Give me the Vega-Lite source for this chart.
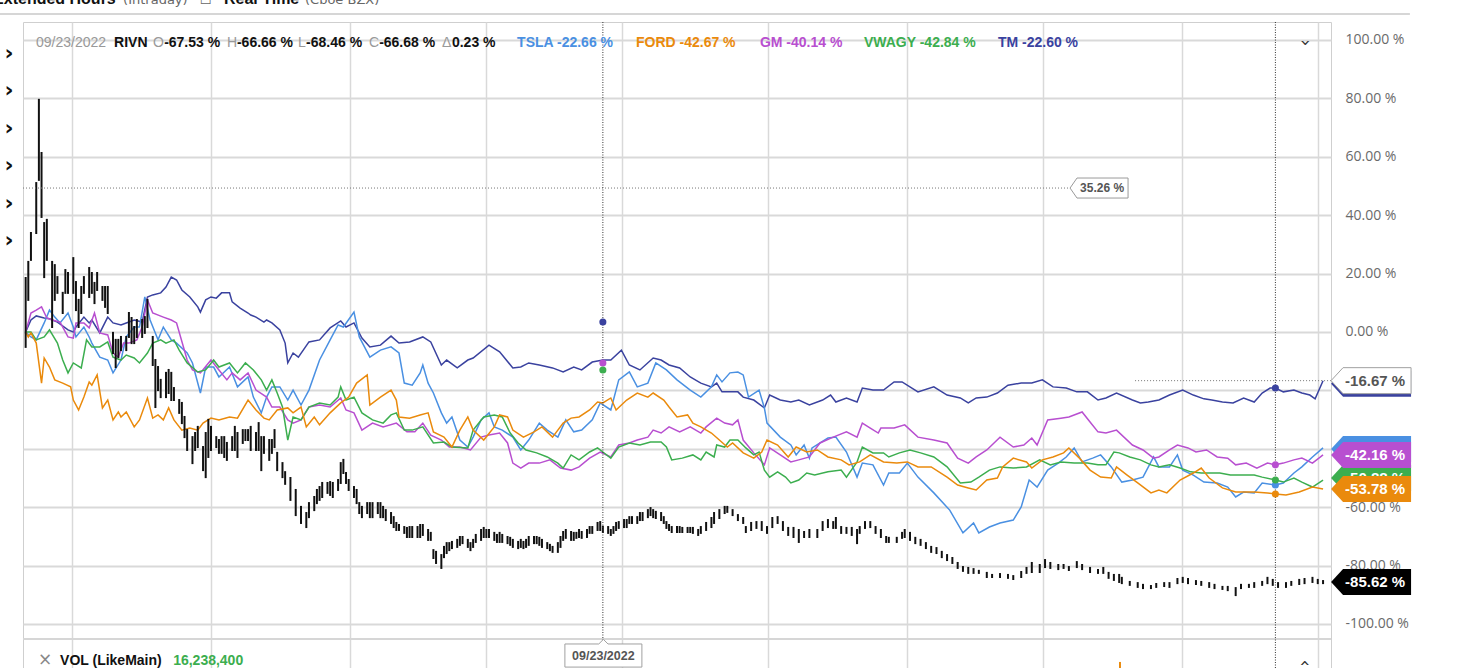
{
"$schema":"https://vega.github.io/schema/vega-lite/v6.json",
"width":1308,"height":646,
"autosize":{"type":"none"},
"padding":{"left":23,"top":22,"right":130,"bottom":0},
"background":"white",
"config":{"view":{"stroke":"#cfcfcf","strokeWidth":1},"font":"Liberation Sans"},
"datasets":{
"lines":[
{"s":"TM","d":1,"v":0},{"s":"TM","d":3,"v":4.1},{"s":"TM","d":5,"v":5.5},{"s":"TM","d":8,"v":4.8},{"s":"TM","d":10,"v":4.5},{"s":"TM","d":13,"v":3.4},{"s":"TM","d":17,"v":0.7},{"s":"TM","d":19,"v":0},{"s":"TM","d":20,"v":1.7},{"s":"TM","d":23,"v":5.1},{"s":"TM","d":25,"v":3.1},{"s":"TM","d":26,"v":4.1},{"s":"TM","d":29,"v":-0.3},{"s":"TM","d":32,"v":5.1},{"s":"TM","d":34,"v":3.1},{"s":"TM","d":37,"v":2.4},{"s":"TM","d":39,"v":3.1},{"s":"TM","d":42,"v":4.1},{"s":"TM","d":45,"v":3.4},{"s":"TM","d":47,"v":12.0},{"s":"TM","d":49,"v":12.7},{"s":"TM","d":52,"v":13.4},{"s":"TM","d":54,"v":15.4},{"s":"TM","d":56,"v":18.8},{"s":"TM","d":58,"v":17.8},{"s":"TM","d":60,"v":14.4},{"s":"TM","d":63,"v":12.0},{"s":"TM","d":66,"v":8.6},{"s":"TM","d":67,"v":6.8},{"s":"TM","d":69,"v":11.0},{"s":"TM","d":71,"v":12.0},{"s":"TM","d":73,"v":11.6},{"s":"TM","d":75,"v":13.4},{"s":"TM","d":78,"v":13.4},{"s":"TM","d":79,"v":10.3},{"s":"TM","d":82,"v":8.2},{"s":"TM","d":85,"v":6.5},{"s":"TM","d":86,"v":5.8},{"s":"TM","d":88,"v":5.1},{"s":"TM","d":91,"v":3.4},{"s":"TM","d":92,"v":4.1},{"s":"TM","d":94,"v":3.1},{"s":"TM","d":97,"v":0.7},{"s":"TM","d":99,"v":-3.8},{"s":"TM","d":100,"v":-10.6},{"s":"TM","d":102,"v":-7.2},{"s":"TM","d":104,"v":-8.6},{"s":"TM","d":108,"v":-3.4},{"s":"TM","d":112,"v":-2.7},{"s":"TM","d":116,"v":1.4},{"s":"TM","d":120,"v":3.8},{"s":"TM","d":122,"v":1.7},{"s":"TM","d":125,"v":3.1},{"s":"TM","d":128,"v":-2.1},{"s":"TM","d":131,"v":-5.1},{"s":"TM","d":135,"v":-4.5},{"s":"TM","d":139,"v":-1.4},{"s":"TM","d":142,"v":-3.8},{"s":"TM","d":146,"v":-3.4},{"s":"TM","d":151,"v":-1.7},{"s":"TM","d":154,"v":-3.4},{"s":"TM","d":158,"v":-11.3},{"s":"TM","d":160,"v":-9.6},{"s":"TM","d":164,"v":-12.3},{"s":"TM","d":168,"v":-9.6},{"s":"TM","d":170,"v":-8.9},{"s":"TM","d":176,"v":-4.5},{"s":"TM","d":180,"v":-6.8},{"s":"TM","d":185,"v":-12.3},{"s":"TM","d":188,"v":-12.0},{"s":"TM","d":191,"v":-10.6},{"s":"TM","d":195,"v":-11.3},{"s":"TM","d":200,"v":-12.3},{"s":"TM","d":204,"v":-13.7},{"s":"TM","d":208,"v":-12.0},{"s":"TM","d":211,"v":-13.0},{"s":"TM","d":215,"v":-10.3},{"s":"TM","d":219,"v":-9.6},{"s":"TM","d":222,"v":-9.6},{"s":"TM","d":226,"v":-6.2},{"s":"TM","d":229,"v":-11.3},{"s":"TM","d":233,"v":-13.0},{"s":"TM","d":238,"v":-8.9},{"s":"TM","d":241,"v":-9.6},{"s":"TM","d":244,"v":-11.3},{"s":"TM","d":248,"v":-12.3},{"s":"TM","d":252,"v":-15.4},{"s":"TM","d":256,"v":-17.5},{"s":"TM","d":260,"v":-18.8},{"s":"TM","d":262,"v":-17.5},{"s":"TM","d":264,"v":-20.5},{"s":"TM","d":270,"v":-20.5},{"s":"TM","d":272,"v":-22.3},{"s":"TM","d":276,"v":-23.3},{"s":"TM","d":280,"v":-26.0},{"s":"TM","d":282,"v":-21.6},{"s":"TM","d":286,"v":-23.3},{"s":"TM","d":290,"v":-24.0},{"s":"TM","d":293,"v":-23.3},{"s":"TM","d":297,"v":-25.0},{"s":"TM","d":302,"v":-23.3},{"s":"TM","d":305,"v":-21.6},{"s":"TM","d":307,"v":-24.0},{"s":"TM","d":311,"v":-22.6},{"s":"TM","d":315,"v":-24.0},{"s":"TM","d":317,"v":-19.2},{"s":"TM","d":321,"v":-19.9},{"s":"TM","d":325,"v":-19.9},{"s":"TM","d":329,"v":-17.1},{"s":"TM","d":332,"v":-17.1},{"s":"TM","d":338,"v":-20.5},{"s":"TM","d":344,"v":-18.8},{"s":"TM","d":349,"v":-21.6},{"s":"TM","d":354,"v":-22.6},{"s":"TM","d":357,"v":-24.3},{"s":"TM","d":360,"v":-22.6},{"s":"TM","d":364,"v":-22.3},{"s":"TM","d":368,"v":-20.9},{"s":"TM","d":372,"v":-18.2},{"s":"TM","d":377,"v":-17.5},{"s":"TM","d":381,"v":-17.5},{"s":"TM","d":385,"v":-16.4},{"s":"TM","d":389,"v":-18.8},{"s":"TM","d":394,"v":-19.2},{"s":"TM","d":398,"v":-20.5},{"s":"TM","d":402,"v":-20.5},{"s":"TM","d":406,"v":-23.3},{"s":"TM","d":409,"v":-22.6},{"s":"TM","d":413,"v":-20.9},{"s":"TM","d":419,"v":-23.3},{"s":"TM","d":422,"v":-24.3},{"s":"TM","d":425,"v":-24.0},{"s":"TM","d":429,"v":-23.3},{"s":"TM","d":433,"v":-21.6},{"s":"TM","d":438,"v":-19.9},{"s":"TM","d":442,"v":-21.6},{"s":"TM","d":446,"v":-22.9},{"s":"TM","d":449,"v":-23.3},{"s":"TM","d":453,"v":-24.0},{"s":"TM","d":457,"v":-24.3},{"s":"TM","d":461,"v":-22.6},{"s":"TM","d":465,"v":-24.0},{"s":"TM","d":468,"v":-20.9},{"s":"TM","d":471,"v":-19.2},{"s":"TM","d":473,"v":-19.2},{"s":"TM","d":476,"v":-20.5},{"s":"TM","d":480,"v":-19.9},{"s":"TM","d":483,"v":-20.9},{"s":"TM","d":486,"v":-21.6},{"s":"TM","d":488,"v":-22.9},{"s":"TM","d":491,"v":-16.7},
{"s":"TSLA","d":1,"v":0},{"s":"TSLA","d":3,"v":-1.7},{"s":"TSLA","d":5,"v":-2.7},{"s":"TSLA","d":8,"v":3.1},{"s":"TSLA","d":10,"v":7.5},{"s":"TSLA","d":12,"v":5.1},{"s":"TSLA","d":14,"v":3.1},{"s":"TSLA","d":17,"v":6.5},{"s":"TSLA","d":19,"v":1.7},{"s":"TSLA","d":20,"v":-1.7},{"s":"TSLA","d":23,"v":1.7},{"s":"TSLA","d":25,"v":-1.7},{"s":"TSLA","d":26,"v":-3.8},{"s":"TSLA","d":29,"v":-8.6},{"s":"TSLA","d":32,"v":-9.6},{"s":"TSLA","d":34,"v":-14.0},{"s":"TSLA","d":37,"v":-9.6},{"s":"TSLA","d":39,"v":-1.7},{"s":"TSLA","d":42,"v":1.7},{"s":"TSLA","d":44,"v":1.7},{"s":"TSLA","d":46,"v":12.0},{"s":"TSLA","d":48,"v":4.1},{"s":"TSLA","d":51,"v":-2.7},{"s":"TSLA","d":53,"v":1.7},{"s":"TSLA","d":56,"v":-2.7},{"s":"TSLA","d":58,"v":-3.8},{"s":"TSLA","d":62,"v":-7.2},{"s":"TSLA","d":64,"v":-10.6},{"s":"TSLA","d":67,"v":-20.9},{"s":"TSLA","d":69,"v":-12.0},{"s":"TSLA","d":72,"v":-12.0},{"s":"TSLA","d":74,"v":-15.4},{"s":"TSLA","d":78,"v":-12.0},{"s":"TSLA","d":81,"v":-18.8},{"s":"TSLA","d":85,"v":-15.4},{"s":"TSLA","d":87,"v":-22.3},{"s":"TSLA","d":90,"v":-27.7},{"s":"TSLA","d":92,"v":-22.3},{"s":"TSLA","d":94,"v":-18.8},{"s":"TSLA","d":97,"v":-18.8},{"s":"TSLA","d":100,"v":-23.3},{"s":"TSLA","d":102,"v":-19.9},{"s":"TSLA","d":105,"v":-25.0},{"s":"TSLA","d":108,"v":-19.9},{"s":"TSLA","d":112,"v":-9.6},{"s":"TSLA","d":116,"v":-2.7},{"s":"TSLA","d":119,"v":2.4},{"s":"TSLA","d":121,"v":1.7},{"s":"TSLA","d":125,"v":6.8},{"s":"TSLA","d":127,"v":-1.7},{"s":"TSLA","d":131,"v":-8.6},{"s":"TSLA","d":135,"v":-6.2},{"s":"TSLA","d":139,"v":-5.1},{"s":"TSLA","d":142,"v":-7.2},{"s":"TSLA","d":144,"v":-17.5},{"s":"TSLA","d":147,"v":-18.2},{"s":"TSLA","d":150,"v":-14.0},{"s":"TSLA","d":151,"v":-11.3},{"s":"TSLA","d":153,"v":-17.5},{"s":"TSLA","d":155,"v":-20.9},{"s":"TSLA","d":158,"v":-27.7},{"s":"TSLA","d":160,"v":-31.2},{"s":"TSLA","d":162,"v":-29.1},{"s":"TSLA","d":165,"v":-37.0},{"s":"TSLA","d":168,"v":-39.4},{"s":"TSLA","d":170,"v":-36.0},{"s":"TSLA","d":173,"v":-30.1},{"s":"TSLA","d":176,"v":-27.7},{"s":"TSLA","d":178,"v":-32.5},{"s":"TSLA","d":181,"v":-33.6},{"s":"TSLA","d":185,"v":-36.0},{"s":"TSLA","d":188,"v":-40.4},{"s":"TSLA","d":191,"v":-37.0},{"s":"TSLA","d":195,"v":-31.2},{"s":"TSLA","d":198,"v":-33.6},{"s":"TSLA","d":202,"v":-36.0},{"s":"TSLA","d":205,"v":-30.1},{"s":"TSLA","d":208,"v":-34.2},{"s":"TSLA","d":211,"v":-33.6},{"s":"TSLA","d":215,"v":-30.1},{"s":"TSLA","d":218,"v":-24.3},{"s":"TSLA","d":222,"v":-26.7},{"s":"TSLA","d":225,"v":-16.4},{"s":"TSLA","d":229,"v":-13.7},{"s":"TSLA","d":232,"v":-18.8},{"s":"TSLA","d":236,"v":-17.5},{"s":"TSLA","d":239,"v":-10.6},{"s":"TSLA","d":243,"v":-13.0},{"s":"TSLA","d":247,"v":-16.4},{"s":"TSLA","d":252,"v":-19.9},{"s":"TSLA","d":256,"v":-22.3},{"s":"TSLA","d":260,"v":-18.8},{"s":"TSLA","d":262,"v":-14.7},{"s":"TSLA","d":264,"v":-17.1},{"s":"TSLA","d":267,"v":-14.0},{"s":"TSLA","d":270,"v":-13.7},{"s":"TSLA","d":272,"v":-14.7},{"s":"TSLA","d":274,"v":-22.3},{"s":"TSLA","d":278,"v":-19.9},{"s":"TSLA","d":280,"v":-26.0},{"s":"TSLA","d":281,"v":-31.2},{"s":"TSLA","d":286,"v":-36.0},{"s":"TSLA","d":290,"v":-38.7},{"s":"TSLA","d":292,"v":-42.1},{"s":"TSLA","d":295,"v":-38.7},{"s":"TSLA","d":297,"v":-43.2},{"s":"TSLA","d":298,"v":-39.7},{"s":"TSLA","d":304,"v":-36.3},{"s":"TSLA","d":307,"v":-36.0},{"s":"TSLA","d":311,"v":-41.1},{"s":"TSLA","d":315,"v":-49.7},{"s":"TSLA","d":317,"v":-44.9},{"s":"TSLA","d":321,"v":-45.5},{"s":"TSLA","d":325,"v":-52.4},{"s":"TSLA","d":327,"v":-48.3},{"s":"TSLA","d":331,"v":-48.3},{"s":"TSLA","d":334,"v":-44.9},{"s":"TSLA","d":338,"v":-49.7},{"s":"TSLA","d":344,"v":-55.1},{"s":"TSLA","d":350,"v":-61.0},{"s":"TSLA","d":355,"v":-68.8},{"s":"TSLA","d":359,"v":-65.4},{"s":"TSLA","d":361,"v":-68.8},{"s":"TSLA","d":365,"v":-66.8},{"s":"TSLA","d":369,"v":-65.4},{"s":"TSLA","d":374,"v":-64.4},{"s":"TSLA","d":377,"v":-59.9},{"s":"TSLA","d":380,"v":-50.7},{"s":"TSLA","d":383,"v":-53.1},{"s":"TSLA","d":387,"v":-47.3},{"s":"TSLA","d":391,"v":-44.9},{"s":"TSLA","d":394,"v":-42.8},{"s":"TSLA","d":397,"v":-39.7},{"s":"TSLA","d":400,"v":-44.5},{"s":"TSLA","d":404,"v":-43.2},{"s":"TSLA","d":407,"v":-42.1},{"s":"TSLA","d":411,"v":-46.2},{"s":"TSLA","d":415,"v":-51.4},{"s":"TSLA","d":419,"v":-50.7},{"s":"TSLA","d":423,"v":-49.7},{"s":"TSLA","d":427,"v":-42.8},{"s":"TSLA","d":429,"v":-46.2},{"s":"TSLA","d":433,"v":-46.2},{"s":"TSLA","d":436,"v":-42.1},{"s":"TSLA","d":438,"v":-47.3},{"s":"TSLA","d":442,"v":-49.0},{"s":"TSLA","d":446,"v":-51.4},{"s":"TSLA","d":451,"v":-51.7},{"s":"TSLA","d":455,"v":-53.1},{"s":"TSLA","d":458,"v":-56.5},{"s":"TSLA","d":461,"v":-54.8},{"s":"TSLA","d":465,"v":-55.1},{"s":"TSLA","d":468,"v":-51.7},{"s":"TSLA","d":473,"v":-52.4},{"s":"TSLA","d":476,"v":-51.7},{"s":"TSLA","d":480,"v":-48.3},{"s":"TSLA","d":483,"v":-46.2},{"s":"TSLA","d":487,"v":-42.8},{"s":"TSLA","d":491,"v":-39.7},
{"s":"GM","d":1,"v":0},{"s":"GM","d":3,"v":6.5},{"s":"GM","d":5,"v":7.5},{"s":"GM","d":7,"v":8.6},{"s":"GM","d":9,"v":4.8},{"s":"GM","d":11,"v":4.1},{"s":"GM","d":14,"v":3.4},{"s":"GM","d":17,"v":-1.7},{"s":"GM","d":19,"v":-2.1},{"s":"GM","d":20,"v":3.1},{"s":"GM","d":23,"v":3.1},{"s":"GM","d":25,"v":1.4},{"s":"GM","d":27,"v":6.5},{"s":"GM","d":29,"v":-0.3},{"s":"GM","d":32,"v":-1.0},{"s":"GM","d":34,"v":-7.2},{"s":"GM","d":36,"v":-8.6},{"s":"GM","d":38,"v":-3.8},{"s":"GM","d":40,"v":-3.8},{"s":"GM","d":43,"v":-2.7},{"s":"GM","d":45,"v":1.7},{"s":"GM","d":47,"v":11.0},{"s":"GM","d":49,"v":6.5},{"s":"GM","d":53,"v":5.1},{"s":"GM","d":56,"v":4.1},{"s":"GM","d":58,"v":3.1},{"s":"GM","d":62,"v":-9.6},{"s":"GM","d":64,"v":-13.0},{"s":"GM","d":67,"v":-14.0},{"s":"GM","d":71,"v":-9.6},{"s":"GM","d":74,"v":-13.0},{"s":"GM","d":77,"v":-16.4},{"s":"GM","d":79,"v":-14.0},{"s":"GM","d":82,"v":-16.4},{"s":"GM","d":85,"v":-14.0},{"s":"GM","d":88,"v":-19.9},{"s":"GM","d":92,"v":-22.3},{"s":"GM","d":94,"v":-25.7},{"s":"GM","d":97,"v":-25.7},{"s":"GM","d":100,"v":-30.1},{"s":"GM","d":102,"v":-31.2},{"s":"GM","d":105,"v":-30.1},{"s":"GM","d":108,"v":-25.7},{"s":"GM","d":112,"v":-25.0},{"s":"GM","d":116,"v":-25.7},{"s":"GM","d":120,"v":-22.6},{"s":"GM","d":122,"v":-26.7},{"s":"GM","d":125,"v":-27.7},{"s":"GM","d":128,"v":-33.6},{"s":"GM","d":132,"v":-31.2},{"s":"GM","d":136,"v":-32.5},{"s":"GM","d":141,"v":-31.2},{"s":"GM","d":145,"v":-34.2},{"s":"GM","d":148,"v":-34.2},{"s":"GM","d":151,"v":-31.2},{"s":"GM","d":154,"v":-35.3},{"s":"GM","d":158,"v":-37.0},{"s":"GM","d":161,"v":-39.4},{"s":"GM","d":165,"v":-39.4},{"s":"GM","d":169,"v":-40.4},{"s":"GM","d":173,"v":-36.0},{"s":"GM","d":176,"v":-35.3},{"s":"GM","d":180,"v":-34.6},{"s":"GM","d":183,"v":-38.0},{"s":"GM","d":185,"v":-44.9},{"s":"GM","d":188,"v":-46.6},{"s":"GM","d":191,"v":-44.9},{"s":"GM","d":195,"v":-44.9},{"s":"GM","d":199,"v":-43.8},{"s":"GM","d":203,"v":-46.6},{"s":"GM","d":207,"v":-47.3},{"s":"GM","d":210,"v":-46.2},{"s":"GM","d":214,"v":-43.2},{"s":"GM","d":218,"v":-41.1},{"s":"GM","d":222,"v":-42.8},{"s":"GM","d":225,"v":-38.7},{"s":"GM","d":229,"v":-38.0},{"s":"GM","d":232,"v":-37.0},{"s":"GM","d":236,"v":-36.0},{"s":"GM","d":238,"v":-33.6},{"s":"GM","d":241,"v":-34.6},{"s":"GM","d":244,"v":-32.5},{"s":"GM","d":248,"v":-34.2},{"s":"GM","d":252,"v":-32.5},{"s":"GM","d":256,"v":-34.6},{"s":"GM","d":258,"v":-32.5},{"s":"GM","d":262,"v":-29.5},{"s":"GM","d":265,"v":-31.2},{"s":"GM","d":268,"v":-31.8},{"s":"GM","d":270,"v":-30.1},{"s":"GM","d":272,"v":-37.0},{"s":"GM","d":276,"v":-41.4},{"s":"GM","d":280,"v":-45.5},{"s":"GM","d":282,"v":-39.7},{"s":"GM","d":286,"v":-42.1},{"s":"GM","d":290,"v":-44.5},{"s":"GM","d":293,"v":-43.8},{"s":"GM","d":297,"v":-42.8},{"s":"GM","d":301,"v":-38.0},{"s":"GM","d":306,"v":-36.0},{"s":"GM","d":311,"v":-34.2},{"s":"GM","d":315,"v":-36.0},{"s":"GM","d":317,"v":-31.2},{"s":"GM","d":320,"v":-32.9},{"s":"GM","d":323,"v":-34.6},{"s":"GM","d":324,"v":-32.9},{"s":"GM","d":329,"v":-32.9},{"s":"GM","d":333,"v":-31.8},{"s":"GM","d":338,"v":-36.0},{"s":"GM","d":344,"v":-37.0},{"s":"GM","d":349,"v":-38.0},{"s":"GM","d":353,"v":-43.2},{"s":"GM","d":357,"v":-44.9},{"s":"GM","d":360,"v":-42.8},{"s":"GM","d":364,"v":-40.4},{"s":"GM","d":369,"v":-36.0},{"s":"GM","d":374,"v":-39.4},{"s":"GM","d":378,"v":-38.7},{"s":"GM","d":381,"v":-36.3},{"s":"GM","d":383,"v":-38.7},{"s":"GM","d":387,"v":-30.1},{"s":"GM","d":392,"v":-29.5},{"s":"GM","d":395,"v":-29.1},{"s":"GM","d":400,"v":-27.4},{"s":"GM","d":403,"v":-30.8},{"s":"GM","d":406,"v":-34.2},{"s":"GM","d":409,"v":-34.6},{"s":"GM","d":413,"v":-33.6},{"s":"GM","d":419,"v":-38.7},{"s":"GM","d":423,"v":-40.4},{"s":"GM","d":427,"v":-43.2},{"s":"GM","d":429,"v":-42.8},{"s":"GM","d":433,"v":-40.4},{"s":"GM","d":436,"v":-38.7},{"s":"GM","d":440,"v":-39.7},{"s":"GM","d":443,"v":-41.1},{"s":"GM","d":447,"v":-40.4},{"s":"GM","d":451,"v":-42.8},{"s":"GM","d":455,"v":-43.2},{"s":"GM","d":458,"v":-45.5},{"s":"GM","d":462,"v":-44.9},{"s":"GM","d":466,"v":-46.6},{"s":"GM","d":470,"v":-44.9},{"s":"GM","d":473,"v":-45.5},{"s":"GM","d":476,"v":-44.9},{"s":"GM","d":480,"v":-43.8},{"s":"GM","d":483,"v":-43.2},{"s":"GM","d":487,"v":-44.9},{"s":"GM","d":491,"v":-42.1},
{"s":"VWAGY","d":1,"v":0},{"s":"VWAGY","d":3,"v":0},{"s":"VWAGY","d":5,"v":-2.7},{"s":"VWAGY","d":8,"v":-1.7},{"s":"VWAGY","d":10,"v":0.7},{"s":"VWAGY","d":13,"v":-3.8},{"s":"VWAGY","d":15,"v":-9.6},{"s":"VWAGY","d":17,"v":-14.0},{"s":"VWAGY","d":19,"v":-10.6},{"s":"VWAGY","d":22,"v":-12.3},{"s":"VWAGY","d":24,"v":-2.7},{"s":"VWAGY","d":26,"v":-5.1},{"s":"VWAGY","d":29,"v":-5.1},{"s":"VWAGY","d":32,"v":-3.4},{"s":"VWAGY","d":34,"v":-8.6},{"s":"VWAGY","d":37,"v":-9.6},{"s":"VWAGY","d":39,"v":-7.9},{"s":"VWAGY","d":42,"v":-8.9},{"s":"VWAGY","d":44,"v":-10.6},{"s":"VWAGY","d":47,"v":-7.2},{"s":"VWAGY","d":49,"v":-3.8},{"s":"VWAGY","d":52,"v":-2.7},{"s":"VWAGY","d":54,"v":-3.8},{"s":"VWAGY","d":57,"v":-2.7},{"s":"VWAGY","d":59,"v":-6.2},{"s":"VWAGY","d":62,"v":-10.6},{"s":"VWAGY","d":66,"v":-13.7},{"s":"VWAGY","d":69,"v":-13.0},{"s":"VWAGY","d":72,"v":-9.6},{"s":"VWAGY","d":74,"v":-12.0},{"s":"VWAGY","d":78,"v":-10.6},{"s":"VWAGY","d":81,"v":-14.0},{"s":"VWAGY","d":84,"v":-10.6},{"s":"VWAGY","d":87,"v":-13.0},{"s":"VWAGY","d":90,"v":-16.4},{"s":"VWAGY","d":92,"v":-19.9},{"s":"VWAGY","d":94,"v":-16.4},{"s":"VWAGY","d":96,"v":-20.9},{"s":"VWAGY","d":98,"v":-25.7},{"s":"VWAGY","d":100,"v":-37.0},{"s":"VWAGY","d":102,"v":-29.1},{"s":"VWAGY","d":105,"v":-30.1},{"s":"VWAGY","d":108,"v":-25.7},{"s":"VWAGY","d":112,"v":-24.3},{"s":"VWAGY","d":116,"v":-25.0},{"s":"VWAGY","d":119,"v":-22.3},{"s":"VWAGY","d":120,"v":-18.8},{"s":"VWAGY","d":122,"v":-23.3},{"s":"VWAGY","d":125,"v":-22.3},{"s":"VWAGY","d":128,"v":-27.7},{"s":"VWAGY","d":132,"v":-30.1},{"s":"VWAGY","d":136,"v":-31.2},{"s":"VWAGY","d":139,"v":-28.4},{"s":"VWAGY","d":141,"v":-27.7},{"s":"VWAGY","d":144,"v":-33.6},{"s":"VWAGY","d":147,"v":-33.6},{"s":"VWAGY","d":151,"v":-32.5},{"s":"VWAGY","d":155,"v":-38.0},{"s":"VWAGY","d":159,"v":-37.7},{"s":"VWAGY","d":162,"v":-39.4},{"s":"VWAGY","d":168,"v":-39.7},{"s":"VWAGY","d":170,"v":-33.6},{"s":"VWAGY","d":174,"v":-29.1},{"s":"VWAGY","d":178,"v":-28.4},{"s":"VWAGY","d":181,"v":-29.1},{"s":"VWAGY","d":184,"v":-34.6},{"s":"VWAGY","d":187,"v":-38.0},{"s":"VWAGY","d":190,"v":-40.4},{"s":"VWAGY","d":194,"v":-41.4},{"s":"VWAGY","d":198,"v":-42.8},{"s":"VWAGY","d":202,"v":-44.9},{"s":"VWAGY","d":204,"v":-46.6},{"s":"VWAGY","d":207,"v":-42.1},{"s":"VWAGY","d":210,"v":-43.8},{"s":"VWAGY","d":214,"v":-41.1},{"s":"VWAGY","d":217,"v":-39.7},{"s":"VWAGY","d":219,"v":-41.1},{"s":"VWAGY","d":222,"v":-43.2},{"s":"VWAGY","d":225,"v":-39.4},{"s":"VWAGY","d":229,"v":-38.0},{"s":"VWAGY","d":233,"v":-38.7},{"s":"VWAGY","d":237,"v":-37.7},{"s":"VWAGY","d":241,"v":-37.7},{"s":"VWAGY","d":243,"v":-39.4},{"s":"VWAGY","d":245,"v":-43.8},{"s":"VWAGY","d":249,"v":-43.2},{"s":"VWAGY","d":253,"v":-42.1},{"s":"VWAGY","d":256,"v":-43.8},{"s":"VWAGY","d":258,"v":-41.1},{"s":"VWAGY","d":261,"v":-42.8},{"s":"VWAGY","d":262,"v":-38.7},{"s":"VWAGY","d":265,"v":-39.4},{"s":"VWAGY","d":267,"v":-37.0},{"s":"VWAGY","d":270,"v":-37.0},{"s":"VWAGY","d":273,"v":-39.7},{"s":"VWAGY","d":276,"v":-42.1},{"s":"VWAGY","d":278,"v":-41.1},{"s":"VWAGY","d":280,"v":-47.3},{"s":"VWAGY","d":282,"v":-49.7},{"s":"VWAGY","d":285,"v":-47.9},{"s":"VWAGY","d":288,"v":-49.7},{"s":"VWAGY","d":290,"v":-51.7},{"s":"VWAGY","d":293,"v":-50.7},{"s":"VWAGY","d":296,"v":-48.3},{"s":"VWAGY","d":299,"v":-49.0},{"s":"VWAGY","d":304,"v":-47.9},{"s":"VWAGY","d":309,"v":-47.3},{"s":"VWAGY","d":311,"v":-49.7},{"s":"VWAGY","d":315,"v":-44.5},{"s":"VWAGY","d":317,"v":-39.4},{"s":"VWAGY","d":321,"v":-41.4},{"s":"VWAGY","d":325,"v":-41.4},{"s":"VWAGY","d":327,"v":-42.8},{"s":"VWAGY","d":331,"v":-41.4},{"s":"VWAGY","d":335,"v":-40.4},{"s":"VWAGY","d":339,"v":-41.4},{"s":"VWAGY","d":344,"v":-42.8},{"s":"VWAGY","d":349,"v":-46.2},{"s":"VWAGY","d":354,"v":-51.7},{"s":"VWAGY","d":358,"v":-51.4},{"s":"VWAGY","d":361,"v":-49.7},{"s":"VWAGY","d":365,"v":-47.3},{"s":"VWAGY","d":369,"v":-46.2},{"s":"VWAGY","d":374,"v":-46.6},{"s":"VWAGY","d":379,"v":-46.2},{"s":"VWAGY","d":384,"v":-43.8},{"s":"VWAGY","d":388,"v":-45.5},{"s":"VWAGY","d":392,"v":-44.5},{"s":"VWAGY","d":397,"v":-44.9},{"s":"VWAGY","d":402,"v":-44.9},{"s":"VWAGY","d":406,"v":-45.5},{"s":"VWAGY","d":409,"v":-45.5},{"s":"VWAGY","d":412,"v":-41.1},{"s":"VWAGY","d":414,"v":-41.4},{"s":"VWAGY","d":418,"v":-42.8},{"s":"VWAGY","d":422,"v":-43.8},{"s":"VWAGY","d":426,"v":-45.5},{"s":"VWAGY","d":429,"v":-46.2},{"s":"VWAGY","d":433,"v":-45.5},{"s":"VWAGY","d":437,"v":-46.6},{"s":"VWAGY","d":441,"v":-47.9},{"s":"VWAGY","d":445,"v":-48.3},{"s":"VWAGY","d":448,"v":-48.3},{"s":"VWAGY","d":452,"v":-48.3},{"s":"VWAGY","d":456,"v":-49.0},{"s":"VWAGY","d":460,"v":-49.0},{"s":"VWAGY","d":465,"v":-49.0},{"s":"VWAGY","d":468,"v":-49.7},{"s":"VWAGY","d":473,"v":-50.7},{"s":"VWAGY","d":476,"v":-51.4},{"s":"VWAGY","d":480,"v":-50.0},{"s":"VWAGY","d":483,"v":-51.4},{"s":"VWAGY","d":487,"v":-53.1},{"s":"VWAGY","d":491,"v":-50.7},
{"s":"FORD","d":1,"v":0},{"s":"FORD","d":2,"v":-1.7},{"s":"FORD","d":3,"v":-0.3},{"s":"FORD","d":5,"v":-3.8},{"s":"FORD","d":7,"v":-17.5},{"s":"FORD","d":8,"v":-8.9},{"s":"FORD","d":10,"v":-12.0},{"s":"FORD","d":12,"v":-16.4},{"s":"FORD","d":15,"v":-17.5},{"s":"FORD","d":18,"v":-18.8},{"s":"FORD","d":19,"v":-23.3},{"s":"FORD","d":21,"v":-26.7},{"s":"FORD","d":23,"v":-22.3},{"s":"FORD","d":25,"v":-17.1},{"s":"FORD","d":26,"v":-18.2},{"s":"FORD","d":28,"v":-14.7},{"s":"FORD","d":30,"v":-26.0},{"s":"FORD","d":32,"v":-23.3},{"s":"FORD","d":34,"v":-30.1},{"s":"FORD","d":36,"v":-27.4},{"s":"FORD","d":37,"v":-29.1},{"s":"FORD","d":39,"v":-27.4},{"s":"FORD","d":42,"v":-32.5},{"s":"FORD","d":44,"v":-30.1},{"s":"FORD","d":47,"v":-22.6},{"s":"FORD","d":49,"v":-29.5},{"s":"FORD","d":51,"v":-28.4},{"s":"FORD","d":53,"v":-30.1},{"s":"FORD","d":55,"v":-26.0},{"s":"FORD","d":57,"v":-30.1},{"s":"FORD","d":60,"v":-33.6},{"s":"FORD","d":63,"v":-32.9},{"s":"FORD","d":66,"v":-33.6},{"s":"FORD","d":68,"v":-31.2},{"s":"FORD","d":71,"v":-29.5},{"s":"FORD","d":74,"v":-30.1},{"s":"FORD","d":78,"v":-29.1},{"s":"FORD","d":81,"v":-29.5},{"s":"FORD","d":85,"v":-23.3},{"s":"FORD","d":88,"v":-26.7},{"s":"FORD","d":91,"v":-29.5},{"s":"FORD","d":93,"v":-30.1},{"s":"FORD","d":96,"v":-26.7},{"s":"FORD","d":100,"v":-26.0},{"s":"FORD","d":102,"v":-27.7},{"s":"FORD","d":105,"v":-25.7},{"s":"FORD","d":107,"v":-32.5},{"s":"FORD","d":110,"v":-29.1},{"s":"FORD","d":112,"v":-31.8},{"s":"FORD","d":116,"v":-27.7},{"s":"FORD","d":120,"v":-24.3},{"s":"FORD","d":123,"v":-22.3},{"s":"FORD","d":126,"v":-17.5},{"s":"FORD","d":130,"v":-14.7},{"s":"FORD","d":131,"v":-25.0},{"s":"FORD","d":135,"v":-22.3},{"s":"FORD","d":139,"v":-19.9},{"s":"FORD","d":141,"v":-23.3},{"s":"FORD","d":142,"v":-29.1},{"s":"FORD","d":146,"v":-29.5},{"s":"FORD","d":150,"v":-28.4},{"s":"FORD","d":153,"v":-27.7},{"s":"FORD","d":155,"v":-34.2},{"s":"FORD","d":159,"v":-36.0},{"s":"FORD","d":162,"v":-39.4},{"s":"FORD","d":165,"v":-33.6},{"s":"FORD","d":168,"v":-29.1},{"s":"FORD","d":170,"v":-33.6},{"s":"FORD","d":174,"v":-37.0},{"s":"FORD","d":178,"v":-32.5},{"s":"FORD","d":180,"v":-28.4},{"s":"FORD","d":183,"v":-29.1},{"s":"FORD","d":185,"v":-33.6},{"s":"FORD","d":189,"v":-36.0},{"s":"FORD","d":193,"v":-34.2},{"s":"FORD","d":196,"v":-32.5},{"s":"FORD","d":200,"v":-36.0},{"s":"FORD","d":204,"v":-31.2},{"s":"FORD","d":207,"v":-29.5},{"s":"FORD","d":210,"v":-29.1},{"s":"FORD","d":214,"v":-26.7},{"s":"FORD","d":217,"v":-24.0},{"s":"FORD","d":219,"v":-24.3},{"s":"FORD","d":222,"v":-22.6},{"s":"FORD","d":224,"v":-26.7},{"s":"FORD","d":228,"v":-23.3},{"s":"FORD","d":232,"v":-20.9},{"s":"FORD","d":236,"v":-22.3},{"s":"FORD","d":238,"v":-20.9},{"s":"FORD","d":242,"v":-23.3},{"s":"FORD","d":244,"v":-25.7},{"s":"FORD","d":247,"v":-29.1},{"s":"FORD","d":251,"v":-28.4},{"s":"FORD","d":253,"v":-31.2},{"s":"FORD","d":256,"v":-32.5},{"s":"FORD","d":260,"v":-34.6},{"s":"FORD","d":263,"v":-37.0},{"s":"FORD","d":266,"v":-39.4},{"s":"FORD","d":268,"v":-38.0},{"s":"FORD","d":272,"v":-41.4},{"s":"FORD","d":276,"v":-43.2},{"s":"FORD","d":279,"v":-41.1},{"s":"FORD","d":281,"v":-37.0},{"s":"FORD","d":285,"v":-38.7},{"s":"FORD","d":289,"v":-42.8},{"s":"FORD","d":292,"v":-39.4},{"s":"FORD","d":296,"v":-41.1},{"s":"FORD","d":300,"v":-40.4},{"s":"FORD","d":304,"v":-42.8},{"s":"FORD","d":309,"v":-43.8},{"s":"FORD","d":312,"v":-45.5},{"s":"FORD","d":316,"v":-44.5},{"s":"FORD","d":320,"v":-42.1},{"s":"FORD","d":325,"v":-44.5},{"s":"FORD","d":330,"v":-44.9},{"s":"FORD","d":334,"v":-44.5},{"s":"FORD","d":338,"v":-46.2},{"s":"FORD","d":343,"v":-46.2},{"s":"FORD","d":349,"v":-49.7},{"s":"FORD","d":353,"v":-52.4},{"s":"FORD","d":357,"v":-53.4},{"s":"FORD","d":360,"v":-54.1},{"s":"FORD","d":364,"v":-50.7},{"s":"FORD","d":368,"v":-50.0},{"s":"FORD","d":370,"v":-46.2},{"s":"FORD","d":374,"v":-43.2},{"s":"FORD","d":379,"v":-44.5},{"s":"FORD","d":381,"v":-46.6},{"s":"FORD","d":385,"v":-43.8},{"s":"FORD","d":389,"v":-42.8},{"s":"FORD","d":393,"v":-41.4},{"s":"FORD","d":395,"v":-39.7},{"s":"FORD","d":399,"v":-43.2},{"s":"FORD","d":403,"v":-47.3},{"s":"FORD","d":407,"v":-49.7},{"s":"FORD","d":411,"v":-50.0},{"s":"FORD","d":413,"v":-46.2},{"s":"FORD","d":417,"v":-49.0},{"s":"FORD","d":421,"v":-51.7},{"s":"FORD","d":426,"v":-55.1},{"s":"FORD","d":429,"v":-54.1},{"s":"FORD","d":432,"v":-55.1},{"s":"FORD","d":437,"v":-50.7},{"s":"FORD","d":442,"v":-48.3},{"s":"FORD","d":445,"v":-46.6},{"s":"FORD","d":448,"v":-50.0},{"s":"FORD","d":453,"v":-53.4},{"s":"FORD","d":458,"v":-54.8},{"s":"FORD","d":465,"v":-54.8},{"s":"FORD","d":470,"v":-55.1},{"s":"FORD","d":473,"v":-55.5},{"s":"FORD","d":477,"v":-55.8},{"s":"FORD","d":482,"v":-54.8},{"s":"FORD","d":487,"v":-53.1},{"s":"FORD","d":491,"v":-53.8}
],
"rivn":[
{"d":1,"v":18.5,"lo":-5.1},{"d":2,"v":24.0,"lo":11.0},{"d":3,"v":33.9,"lo":24.7},{"d":5,"v":51.0,"lo":33.9},{"d":6,"v":79.5,"lo":52.1},{"d":7,"v":61.3,"lo":39.4},{"d":8,"v":37.3,"lo":18.8},{"d":9,"v":38.4,"lo":24.7},{"d":11,"v":24.0,"lo":1.7},{"d":12,"v":22.9,"lo":11.0},{"d":13,"v":18.8,"lo":13.4},{"d":15,"v":13.4,"lo":6.5},{"d":16,"v":21.2,"lo":13.4},{"d":17,"v":20.2,"lo":13.4},{"d":19,"v":25.3,"lo":13.4},{"d":20,"v":17.1,"lo":7.5},{"d":21,"v":11.0,"lo":1.7},{"d":22,"v":15.4,"lo":6.5},{"d":23,"v":18.8,"lo":13.4},{"d":25,"v":21.9,"lo":12.0},{"d":26,"v":20.2,"lo":13.4},{"d":27,"v":16.8,"lo":9.9},{"d":28,"v":20.2,"lo":14.4},{"d":30,"v":15.4,"lo":11.0},{"d":31,"v":15.4,"lo":8.6},{"d":32,"v":15.4,"lo":6.5},{"d":34,"v":-0.3,"lo":-7.2},{"d":35,"v":-2.7,"lo":-12.0},{"d":36,"v":-2.7,"lo":-8.6},{"d":37,"v":-1.7,"lo":-6.2},{"d":39,"v":-1.7,"lo":-6.2},{"d":40,"v":6.5,"lo":-1.7},{"d":41,"v":4.8,"lo":-3.8},{"d":42,"v":1.7,"lo":-3.8},{"d":43,"v":4.1,"lo":-1.7},{"d":45,"v":4.1,"lo":-1.7},{"d":46,"v":5.1,"lo":-0.3},{"d":47,"v":11.0,"lo":1.7},{"d":49,"v":-1.7,"lo":-11.3},{"d":50,"v":-9.6,"lo":-25.7},{"d":51,"v":-12.0,"lo":-19.9},{"d":52,"v":-16.4,"lo":-22.3},{"d":54,"v":-14.0,"lo":-22.3},{"d":55,"v":-13.0,"lo":-20.9},{"d":56,"v":-14.0,"lo":-23.3},{"d":57,"v":-19.2,"lo":-23.3},{"d":59,"v":-23.3,"lo":-27.7},{"d":60,"v":-24.3,"lo":-31.2},{"d":61,"v":-29.1,"lo":-36.0},{"d":62,"v":-33.6,"lo":-40.4},{"d":64,"v":-36.0,"lo":-44.9},{"d":65,"v":-34.6,"lo":-40.4},{"d":66,"v":-32.5,"lo":-39.4},{"d":68,"v":-39.4,"lo":-47.3},{"d":69,"v":-34.6,"lo":-49.7},{"d":70,"v":-30.1,"lo":-42.8},{"d":71,"v":-32.5,"lo":-40.4},{"d":73,"v":-36.0,"lo":-39.4},{"d":74,"v":-37.0,"lo":-41.4},{"d":75,"v":-36.0,"lo":-41.4},{"d":76,"v":-36.0,"lo":-42.8},{"d":77,"v":-38.0,"lo":-43.8},{"d":79,"v":-36.0,"lo":-40.4},{"d":80,"v":-32.5,"lo":-40.4},{"d":81,"v":-34.6,"lo":-42.8},{"d":83,"v":-33.6,"lo":-38.0},{"d":84,"v":-33.6,"lo":-37.0},{"d":85,"v":-33.6,"lo":-37.0},{"d":86,"v":-32.5,"lo":-40.4},{"d":88,"v":-34.6,"lo":-40.4},{"d":89,"v":-31.2,"lo":-40.4},{"d":90,"v":-36.0,"lo":-47.3},{"d":91,"v":-36.0,"lo":-41.4},{"d":93,"v":-37.0,"lo":-43.8},{"d":94,"v":-37.0,"lo":-41.4},{"d":95,"v":-33.6,"lo":-39.4},{"d":96,"v":-41.4,"lo":-47.3},{"d":98,"v":-44.9,"lo":-49.7},{"d":99,"v":-48.0,"lo":-52.0},{"d":101,"v":-50.0,"lo":-57.5},{"d":103,"v":-54.1,"lo":-62.7},{"d":105,"v":-59.9,"lo":-65.4},{"d":107,"v":-62.0,"lo":-66.8},{"d":108,"v":-58.6,"lo":-63.4},{"d":110,"v":-56.5,"lo":-61.0},{"d":111,"v":-54.1,"lo":-58.6},{"d":112,"v":-53.1,"lo":-57.5},{"d":113,"v":-51.7,"lo":-56.5},{"d":115,"v":-51.7,"lo":-55.1},{"d":116,"v":-51.4,"lo":-55.8},{"d":117,"v":-51.7,"lo":-56.5},{"d":119,"v":-50.7,"lo":-54.1},{"d":120,"v":-44.9,"lo":-51.7},{"d":121,"v":-43.8,"lo":-48.3},{"d":122,"v":-48.3,"lo":-51.7},{"d":123,"v":-50.7,"lo":-54.1},{"d":125,"v":-53.1,"lo":-56.5},{"d":126,"v":-54.1,"lo":-58.6},{"d":127,"v":-58.6,"lo":-62.0},{"d":128,"v":-59.9,"lo":-63.4},{"d":130,"v":-58.6,"lo":-62.0},{"d":131,"v":-58.6,"lo":-63.4},{"d":132,"v":-58.6,"lo":-63.4},{"d":134,"v":-58.6,"lo":-62.0},{"d":135,"v":-58.6,"lo":-63.4},{"d":136,"v":-59.9,"lo":-63.4},{"d":137,"v":-61.0,"lo":-64.4},{"d":139,"v":-62.0,"lo":-65.4},{"d":140,"v":-63.4,"lo":-66.8},{"d":141,"v":-65.4,"lo":-67.8},{"d":142,"v":-66.1,"lo":-67.8},{"d":144,"v":-66.8,"lo":-68.8},{"d":145,"v":-67.1,"lo":-70.2},{"d":146,"v":-66.8,"lo":-70.2},{"d":147,"v":-66.8,"lo":-70.2},{"d":149,"v":-66.8,"lo":-70.2},{"d":150,"v":-66.1,"lo":-70.2},{"d":151,"v":-66.1,"lo":-69.5},{"d":153,"v":-67.8,"lo":-71.2},{"d":154,"v":-68.8,"lo":-71.2},{"d":155,"v":-74.7,"lo":-77.4},{"d":156,"v":-75.3,"lo":-79.1},{"d":158,"v":-76.4,"lo":-80.8},{"d":159,"v":-73.6,"lo":-77.1},{"d":160,"v":-72.3,"lo":-75.7},{"d":161,"v":-72.3,"lo":-74.7},{"d":162,"v":-71.9,"lo":-74.0},{"d":164,"v":-71.2,"lo":-73.6},{"d":165,"v":-70.2,"lo":-72.9},{"d":166,"v":-70.2,"lo":-72.3},{"d":168,"v":-71.2,"lo":-73.6},{"d":169,"v":-72.3,"lo":-74.7},{"d":170,"v":-71.2,"lo":-73.6},{"d":171,"v":-69.5,"lo":-71.9},{"d":173,"v":-67.8,"lo":-71.2},{"d":174,"v":-67.1,"lo":-70.2},{"d":175,"v":-67.8,"lo":-70.2},{"d":176,"v":-67.8,"lo":-70.2},{"d":178,"v":-68.8,"lo":-71.2},{"d":179,"v":-69.5,"lo":-71.9},{"d":180,"v":-68.8,"lo":-71.9},{"d":181,"v":-69.5,"lo":-71.9},{"d":183,"v":-70.2,"lo":-72.3},{"d":184,"v":-70.5,"lo":-72.9},{"d":185,"v":-71.2,"lo":-73.6},{"d":187,"v":-71.9,"lo":-74.0},{"d":188,"v":-71.2,"lo":-73.6},{"d":189,"v":-71.9,"lo":-74.0},{"d":190,"v":-71.2,"lo":-73.6},{"d":191,"v":-70.2,"lo":-72.9},{"d":193,"v":-70.2,"lo":-72.3},{"d":194,"v":-70.2,"lo":-72.3},{"d":195,"v":-70.5,"lo":-72.9},{"d":196,"v":-71.2,"lo":-73.6},{"d":198,"v":-72.3,"lo":-74.0},{"d":199,"v":-72.9,"lo":-74.7},{"d":200,"v":-73.6,"lo":-75.3},{"d":202,"v":-72.3,"lo":-75.3},{"d":203,"v":-70.2,"lo":-73.6},{"d":204,"v":-68.5,"lo":-71.2},{"d":205,"v":-67.8,"lo":-70.5},{"d":207,"v":-68.5,"lo":-71.2},{"d":208,"v":-68.8,"lo":-71.2},{"d":209,"v":-68.8,"lo":-70.5},{"d":210,"v":-67.8,"lo":-70.2},{"d":211,"v":-68.5,"lo":-70.5},{"d":213,"v":-67.8,"lo":-70.2},{"d":214,"v":-66.8,"lo":-68.8},{"d":215,"v":-66.8,"lo":-68.8},{"d":217,"v":-65.4,"lo":-67.8},{"d":218,"v":-65.1,"lo":-67.8},{"d":219,"v":-66.7,"lo":-68.5},{"d":221,"v":-66.8,"lo":-68.8},{"d":222,"v":-67.8,"lo":-69.5},{"d":223,"v":-66.8,"lo":-68.8},{"d":224,"v":-65.4,"lo":-67.8},{"d":225,"v":-65.1,"lo":-67.1},{"d":227,"v":-64.4,"lo":-66.8},{"d":228,"v":-64.4,"lo":-66.8},{"d":229,"v":-63.4,"lo":-65.4},{"d":230,"v":-63.4,"lo":-65.4},{"d":232,"v":-63.4,"lo":-65.4},{"d":233,"v":-62.0,"lo":-64.4},{"d":234,"v":-62.0,"lo":-64.4},{"d":236,"v":-61.0,"lo":-63.4},{"d":237,"v":-60.3,"lo":-62.7},{"d":238,"v":-61.0,"lo":-63.4},{"d":239,"v":-61.6,"lo":-63.7},{"d":241,"v":-62.0,"lo":-64.4},{"d":242,"v":-63.4,"lo":-65.4},{"d":243,"v":-65.1,"lo":-67.1},{"d":244,"v":-66.1,"lo":-67.8},{"d":245,"v":-66.8,"lo":-68.5},{"d":247,"v":-66.8,"lo":-68.5},{"d":248,"v":-66.8,"lo":-68.5},{"d":249,"v":-67.1,"lo":-68.5},{"d":251,"v":-67.1,"lo":-68.5},{"d":252,"v":-67.1,"lo":-68.5},{"d":253,"v":-67.1,"lo":-68.8},{"d":255,"v":-67.8,"lo":-69.5},{"d":256,"v":-66.8,"lo":-68.8},{"d":258,"v":-65.4,"lo":-67.8},{"d":260,"v":-63.7,"lo":-66.8},{"d":261,"v":-62.0,"lo":-65.4},{"d":263,"v":-61.0,"lo":-63.7},{"d":265,"v":-59.9,"lo":-62.0},{"d":266,"v":-59.9,"lo":-61.6},{"d":268,"v":-61.0,"lo":-62.7},{"d":270,"v":-62.7,"lo":-64.4},{"d":272,"v":-63.7,"lo":-65.4},{"d":273,"v":-66.8,"lo":-68.5},{"d":275,"v":-65.4,"lo":-67.8},{"d":277,"v":-65.1,"lo":-67.1},{"d":279,"v":-65.1,"lo":-67.8},{"d":281,"v":-66.8,"lo":-68.8},{"d":283,"v":-63.7,"lo":-66.8},{"d":285,"v":-63.4,"lo":-65.4},{"d":287,"v":-65.1,"lo":-67.8},{"d":289,"v":-67.1,"lo":-69.5},{"d":291,"v":-67.1,"lo":-70.2},{"d":293,"v":-67.8,"lo":-71.9},{"d":295,"v":-68.5,"lo":-70.2},{"d":297,"v":-67.8,"lo":-70.2},{"d":300,"v":-67.8,"lo":-70.2},{"d":302,"v":-65.1,"lo":-67.8},{"d":304,"v":-64.4,"lo":-66.8},{"d":306,"v":-65.1,"lo":-67.1},{"d":307,"v":-63.7,"lo":-67.1},{"d":309,"v":-66.8,"lo":-68.8},{"d":311,"v":-67.1,"lo":-68.8},{"d":313,"v":-67.1,"lo":-69.5},{"d":315,"v":-67.8,"lo":-72.3},{"d":316,"v":-66.8,"lo":-68.8},{"d":318,"v":-65.1,"lo":-67.1},{"d":320,"v":-65.1,"lo":-66.8},{"d":322,"v":-66.8,"lo":-68.8},{"d":324,"v":-67.8,"lo":-70.2},{"d":326,"v":-70.2,"lo":-71.9},{"d":327,"v":-70.5,"lo":-71.9},{"d":330,"v":-70.5,"lo":-71.9},{"d":332,"v":-68.8,"lo":-70.5},{"d":333,"v":-67.8,"lo":-70.2},{"d":335,"v":-68.8,"lo":-71.2},{"d":337,"v":-70.5,"lo":-72.3},{"d":339,"v":-71.2,"lo":-72.9},{"d":341,"v":-72.3,"lo":-74.0},{"d":343,"v":-73.6,"lo":-75.3},{"d":345,"v":-74.0,"lo":-75.7},{"d":347,"v":-75.3,"lo":-77.1},{"d":349,"v":-76.4,"lo":-78.1},{"d":351,"v":-77.4,"lo":-79.1},{"d":353,"v":-79.1,"lo":-80.8},{"d":355,"v":-80.5,"lo":-81.8},{"d":357,"v":-80.8,"lo":-82.5},{"d":359,"v":-81.2,"lo":-82.5},{"d":361,"v":-81.8,"lo":-82.5},{"d":364,"v":-82.5,"lo":-83.9},{"d":366,"v":-83.2,"lo":-83.9},{"d":369,"v":-82.9,"lo":-83.9},{"d":372,"v":-83.2,"lo":-84.2},{"d":374,"v":-83.6,"lo":-84.6},{"d":377,"v":-82.2,"lo":-83.9},{"d":379,"v":-80.8,"lo":-82.5},{"d":381,"v":-79.1,"lo":-82.2},{"d":384,"v":-79.8,"lo":-82.2},{"d":386,"v":-78.1,"lo":-80.5},{"d":388,"v":-79.1,"lo":-80.8},{"d":391,"v":-79.8,"lo":-81.2},{"d":393,"v":-79.8,"lo":-80.8},{"d":395,"v":-80.5,"lo":-81.5},{"d":398,"v":-78.8,"lo":-80.5},{"d":400,"v":-79.8,"lo":-81.2},{"d":403,"v":-80.8,"lo":-82.2},{"d":406,"v":-81.5,"lo":-82.5},{"d":408,"v":-80.8,"lo":-82.5},{"d":410,"v":-82.5,"lo":-84.2},{"d":412,"v":-83.2,"lo":-84.9},{"d":414,"v":-83.2,"lo":-85.6},{"d":415,"v":-84.2,"lo":-86.0},{"d":418,"v":-85.6,"lo":-86.6},{"d":421,"v":-86.0,"lo":-87.3},{"d":423,"v":-86.6,"lo":-87.7},{"d":426,"v":-87.0,"lo":-87.7},{"d":428,"v":-86.3,"lo":-87.3},{"d":431,"v":-86.0,"lo":-87.0},{"d":433,"v":-86.0,"lo":-87.3},{"d":436,"v":-84.6,"lo":-86.0},{"d":438,"v":-84.2,"lo":-85.6},{"d":440,"v":-84.6,"lo":-86.0},{"d":443,"v":-85.3,"lo":-86.3},{"d":445,"v":-85.6,"lo":-86.6},{"d":448,"v":-86.0,"lo":-87.3},{"d":450,"v":-86.6,"lo":-87.7},{"d":453,"v":-87.3,"lo":-88.0},{"d":455,"v":-87.3,"lo":-88.4},{"d":458,"v":-87.7,"lo":-90.1},{"d":460,"v":-86.6,"lo":-87.7},{"d":463,"v":-86.6,"lo":-87.3},{"d":465,"v":-86.0,"lo":-87.3},{"d":468,"v":-85.6,"lo":-86.6},{"d":470,"v":-84.2,"lo":-86.0},{"d":472,"v":-84.9,"lo":-86.6},{"d":474,"v":-86.0,"lo":-87.3},{"d":477,"v":-86.0,"lo":-87.3},{"d":479,"v":-85.6,"lo":-86.6},{"d":482,"v":-84.9,"lo":-86.3},{"d":484,"v":-84.6,"lo":-86.0},{"d":487,"v":-84.2,"lo":-85.6},{"d":489,"v":-84.9,"lo":-86.0},{"d":491,"v":-85.3,"lo":-86.0}
],
"dots":[
{"s":"TM","d":219,"v":3.4},{"s":"GM","d":219,"v":-10.6},{"s":"VWAGY","d":219,"v":-13.0},
{"s":"TSLA","d":473,"v":-52.4},{"s":"VWAGY","d":473,"v":-50.7},{"s":"FORD","d":473,"v":-55.5},{"s":"GM","d":473,"v":-45.5},{"s":"TM","d":473,"v":-19.2}
],
"tags":[
{"s":"TSLA","d":491,"v":-40.1,"label":"-40.12 %","grp":"back"},
{"s":"VWAGY","d":491,"v":-50.0,"label":"-50.88 %","grp":"back"},
{"s":"GM","d":491,"v":-42.16,"label":"-42.16 %","grp":"front"},
{"s":"FORD","d":491,"v":-53.78,"label":"-53.78 %","grp":"front"},
{"s":"RIVN","d":491,"v":-85.62,"label":"-85.62 %","grp":"front"}
],
"tmtag":[{"s":"TM","d":491,"v":-16.67,"label":"-16.67 %"}],
"cursors":[{"d":219,"v":106.16,"v2":-106.5},{"d":473,"v":106.16,"v2":-115.07}],
"hlines":[{"d":0,"d2":395.4,"v":49.3},{"d":420,"d2":494,"v":-16.67}],
"frames":[{"d":0,"d2":494,"v":-105.1},{"d":-8.7,"d2":523.8,"v":108.9}],
"voltick":[{"d":414.3,"v":-113.0,"v2":-115.07}],
"callout":[{"d":406.4,"v":49.3,"t":"35.26 %"}],
"datebox":[{"d":219.2,"v":-110.8,"t":"09/23/2022"}],
"notes":[
{"t":"09/23/2022","k":"m","d":4.9,"v":99.1},
{"t":"RIVN","k":"b","d":34.4,"v":99.1},
{"t":"O","k":"m","d":49.1,"v":99.1},
{"t":"-67.53 %","k":"b","d":53.3,"v":99.1},
{"t":"H","k":"m","d":77.0,"v":99.1},
{"t":"-66.66 %","k":"b","d":80.8,"v":99.1},
{"t":"L","k":"m","d":103.9,"v":99.1},
{"t":"-68.46 %","k":"b","d":106.9,"v":99.1},
{"t":"C","k":"m","d":130.7,"v":99.1},
{"t":"-66.68 %","k":"b","d":134.5,"v":99.1},
{"t":"Δ","k":"m","d":158.2,"v":99.1},
{"t":"0.23 %","k":"b","d":162.0,"v":99.1},
{"t":"TSLA -22.66 %","k":"s","s":"TSLA","d":186.6,"v":99.1},
{"t":"FORD -42.67 %","k":"s","s":"FORD","d":231.5,"v":99.1},
{"t":"GM -40.14 %","k":"s","s":"GM","d":278.3,"v":99.1},
{"t":"VWAGY -42.84 %","k":"s","s":"VWAGY","d":317.6,"v":99.1},
{"t":"TM -22.60 %","k":"s","s":"TM","d":368.2,"v":99.1},
{"t":"VOL (LikeMain)","k":"b","d":14.0,"v":-112.7},
{"t":"16,238,400","k":"g","d":56.7,"v":-112.7}
],
"closex":[{"t":"×","d":5.7,"v":-112.4}],
"top":[
{"t":"Extended Hours","k":"tb","d":-11.3,"v":112.3},
{"t":"(Intraday)","k":"tm","d":37.8,"v":112.3},
{"t":"☐","k":"tm","d":66.8,"v":112.3},
{"t":"Real Time","k":"tb","d":75.9,"v":112.3},
{"t":"(Cboe BZX)","k":"tm","d":106.5,"v":112.3}
],
"chev":[{"d":-5.3,"v":95.5},{"d":-5.3,"v":82.9},{"d":-5.3,"v":69.9},{"d":-5.3,"v":57.2},{"d":-5.3,"v":44.2},{"d":-5.3,"v":31.5}],
"chevdown":[{"d":484.2,"v":99.0}],
"chevup":[{"d":484.2,"v":-113.4}]
},
"encoding":{
"x":{"field":"d","type":"quantitative","scale":{"domain":[0,494],"nice":false,"zero":false},
"axis":{"values":[18.5,71,123.5,174.8,226.2,281.3,333.8,385.2,437.7,489],"grid":true,"gridColor":"#d9d9d9","gridWidth":1.5,"labels":false,"ticks":false,"domain":false,"title":null}},
"y":{"field":"v","type":"quantitative","scale":{"domain":[-115.07,106.16],"nice":false,"zero":false},
"axis":{"orient":"right","values":[-100,-80,-60,-40,-20,0,20,40,60,80,100],"labelExpr":"(datum.value < 0 ? '-' : '') + format(abs(datum.value), '.2f') + ' %'","grid":true,"gridColor":"#d9d9d9","gridWidth":2,"ticks":false,"domain":false,"title":null,"labelPadding":14,"labelFont":"Open Sans","labelFontSize":14,"labelColor":"#6a6a6a","labelAlign":"left","labelBaseline":"middle","labelOverlap":false}}
},
"layer":[
{"data":{"name":"frames"},"mark":{"type":"rule","color":"#d6d6d6","strokeWidth":2},"encoding":{"x2":{"field":"d2"}}},
{"data":{"name":"lines"},"mark":{"type":"line","strokeWidth":1.5,"clip":true},
"encoding":{"color":{"field":"s","type":"nominal","scale":{"domain":["TSLA","FORD","GM","VWAGY","TM","RIVN"],"range":["#4a90e2","#ea8a0c","#b84fd0","#3cae4f","#3a429f","#000000"]},"legend":null}}},
{"data":{"name":"rivn"},"mark":{"type":"rule","color":"#111111","strokeWidth":2,"strokeCap":"square","clip":true},"encoding":{"y2":{"field":"lo"}}},
{"data":{"name":"hlines"},"mark":{"type":"rule","color":"#777777","strokeWidth":1,"strokeDash":[1,2]},"encoding":{"x2":{"field":"d2"}}},
{"data":{"name":"cursors"},"mark":{"type":"rule","color":"#333333","strokeWidth":1,"strokeDash":[1,1.5]},"encoding":{"y2":{"field":"v2"}}},
{"data":{"name":"voltick"},"mark":{"type":"rule","color":"#ea8a0c","strokeWidth":2},"encoding":{"y2":{"field":"v2"}}},
{"data":{"name":"dots"},"mark":{"type":"circle","size":50,"opacity":1},"encoding":{"color":{"field":"s","type":"nominal","legend":null}}},
{"data":{"name":"callout"},"mark":{"type":"point","shape":"M-1,0L-0.76,-0.345L1,-0.345L1,0.345L-0.76,0.345Z","size":3364,"filled":true,"color":"white","stroke":"#9a9a9a","strokeWidth":1,"opacity":1}},
{"data":{"name":"callout"},"mark":{"type":"text","font":"Liberation Sans","fontWeight":"bold","fontSize":12,"color":"#555555","dx":3,"baseline":"middle"},"encoding":{"text":{"field":"t"}}},
{"data":{"name":"datebox"},"mark":{"type":"point","shape":"M-1,-0.3L-0.12,-0.3L0,-0.42L0.12,-0.3L1,-0.3L1,0.3L-1,0.3Z","size":5929,"filled":true,"color":"white","stroke":"#a0a0a0","strokeWidth":1,"opacity":1}},
{"data":{"name":"datebox"},"mark":{"type":"text","font":"Liberation Sans","fontWeight":"bold","fontSize":12.5,"color":"#555555","baseline":"middle"},"encoding":{"text":{"field":"t"}}},
{"data":{"name":"tags"},"transform":[{"filter":"datum.grp=='back'"}],"mark":{"type":"point","shape":"M-1,0L-0.7,-0.325L1,-0.325L1,0.325L-0.7,0.325Z","size":6400,"filled":true,"opacity":1,"strokeWidth":0,"xOffset":48},
"encoding":{"color":{"field":"s","type":"nominal","legend":null}}},
{"data":{"name":"tags"},"transform":[{"filter":"datum.grp=='back'"}],"mark":{"type":"text","font":"Liberation Sans","fontWeight":"bold","fontSize":15,"color":"white","baseline":"middle","xOffset":52},
"encoding":{"text":{"field":"label"}}},
{"data":{"name":"tags"},"transform":[{"filter":"datum.grp=='front'"}],"mark":{"type":"point","shape":"M-1,0L-0.7,-0.325L1,-0.325L1,0.325L-0.7,0.325Z","size":6400,"filled":true,"opacity":1,"strokeWidth":0,"xOffset":48},
"encoding":{"color":{"field":"s","type":"nominal","legend":null}}},
{"data":{"name":"tags"},"transform":[{"filter":"datum.grp=='front'"}],"mark":{"type":"text","font":"Liberation Sans","fontWeight":"bold","fontSize":15,"color":"white","baseline":"middle","xOffset":52},
"encoding":{"text":{"field":"label"}}},
{"data":{"name":"tmtag"},"mark":{"type":"point","shape":"M-1,0L-0.7,-0.325L1,-0.325L1,0.325L-0.7,0.325Z","size":6400,"filled":true,"opacity":1,"strokeWidth":0,"xOffset":48,"yOffset":3},
"encoding":{"color":{"field":"s","type":"nominal","legend":null}}},
{"data":{"name":"tmtag"},"mark":{"type":"point","shape":"M-1,0L-0.7,-0.325L1,-0.325L1,0.325L-0.7,0.325Z","size":6400,"filled":true,"color":"white","stroke":"#a0a0a0","strokeWidth":1,"opacity":1,"xOffset":48}},
{"data":{"name":"tmtag"},"mark":{"type":"text","font":"Liberation Sans","fontWeight":"bold","fontSize":15,"color":"#555555","baseline":"middle","xOffset":52},
"encoding":{"text":{"field":"label"}}},
{"data":{"name":"notes"},"transform":[{"filter":"datum.k=='m'"}],"mark":{"type":"text","font":"Liberation Sans","fontSize":14,"color":"#999999","align":"left","baseline":"middle"},"encoding":{"text":{"field":"t"}}},
{"data":{"name":"notes"},"transform":[{"filter":"datum.k=='b'"}],"mark":{"type":"text","font":"Liberation Sans","fontWeight":"bold","fontSize":14,"color":"#111111","align":"left","baseline":"middle"},"encoding":{"text":{"field":"t"}}},
{"data":{"name":"notes"},"transform":[{"filter":"datum.k=='g'"}],"mark":{"type":"text","font":"Liberation Sans","fontWeight":"bold","fontSize":14,"color":"#3cae4f","align":"left","baseline":"middle"},"encoding":{"text":{"field":"t"}}},
{"data":{"name":"notes"},"transform":[{"filter":"datum.k=='s'"}],"mark":{"type":"text","font":"Liberation Sans","fontWeight":"bold","fontSize":14,"align":"left","baseline":"middle"},"encoding":{"text":{"field":"t"},"color":{"field":"s","type":"nominal","legend":null}}},
{"data":{"name":"closex"},"mark":{"type":"text","font":"DejaVu Sans","fontSize":17,"color":"#888888","align":"left","baseline":"middle"},"encoding":{"text":{"field":"t"}}},
{"data":{"name":"top"},"transform":[{"filter":"datum.k=='tb'"}],"mark":{"type":"text","font":"Liberation Sans","fontWeight":"bold","fontSize":16,"color":"#111111","align":"left","baseline":"alphabetic"},"encoding":{"text":{"field":"t"}}},
{"data":{"name":"top"},"transform":[{"filter":"datum.k=='tm'"}],"mark":{"type":"text","font":"DejaVu Sans","fontSize":13,"color":"#666666","align":"left","baseline":"alphabetic"},"encoding":{"text":{"field":"t"}}},
{"data":{"name":"chev"},"mark":{"type":"text","text":"›","font":"DejaVu Sans","fontWeight":"bold","fontSize":22,"color":"#111111","baseline":"middle"}},
{"data":{"name":"chevdown"},"mark":{"type":"text","text":"›","font":"DejaVu Sans","fontSize":18,"color":"#333333","baseline":"middle","angle":90}},
{"data":{"name":"chevup"},"mark":{"type":"text","text":"›","font":"DejaVu Sans","fontSize":18,"color":"#333333","baseline":"middle","angle":-90}}
]
}
